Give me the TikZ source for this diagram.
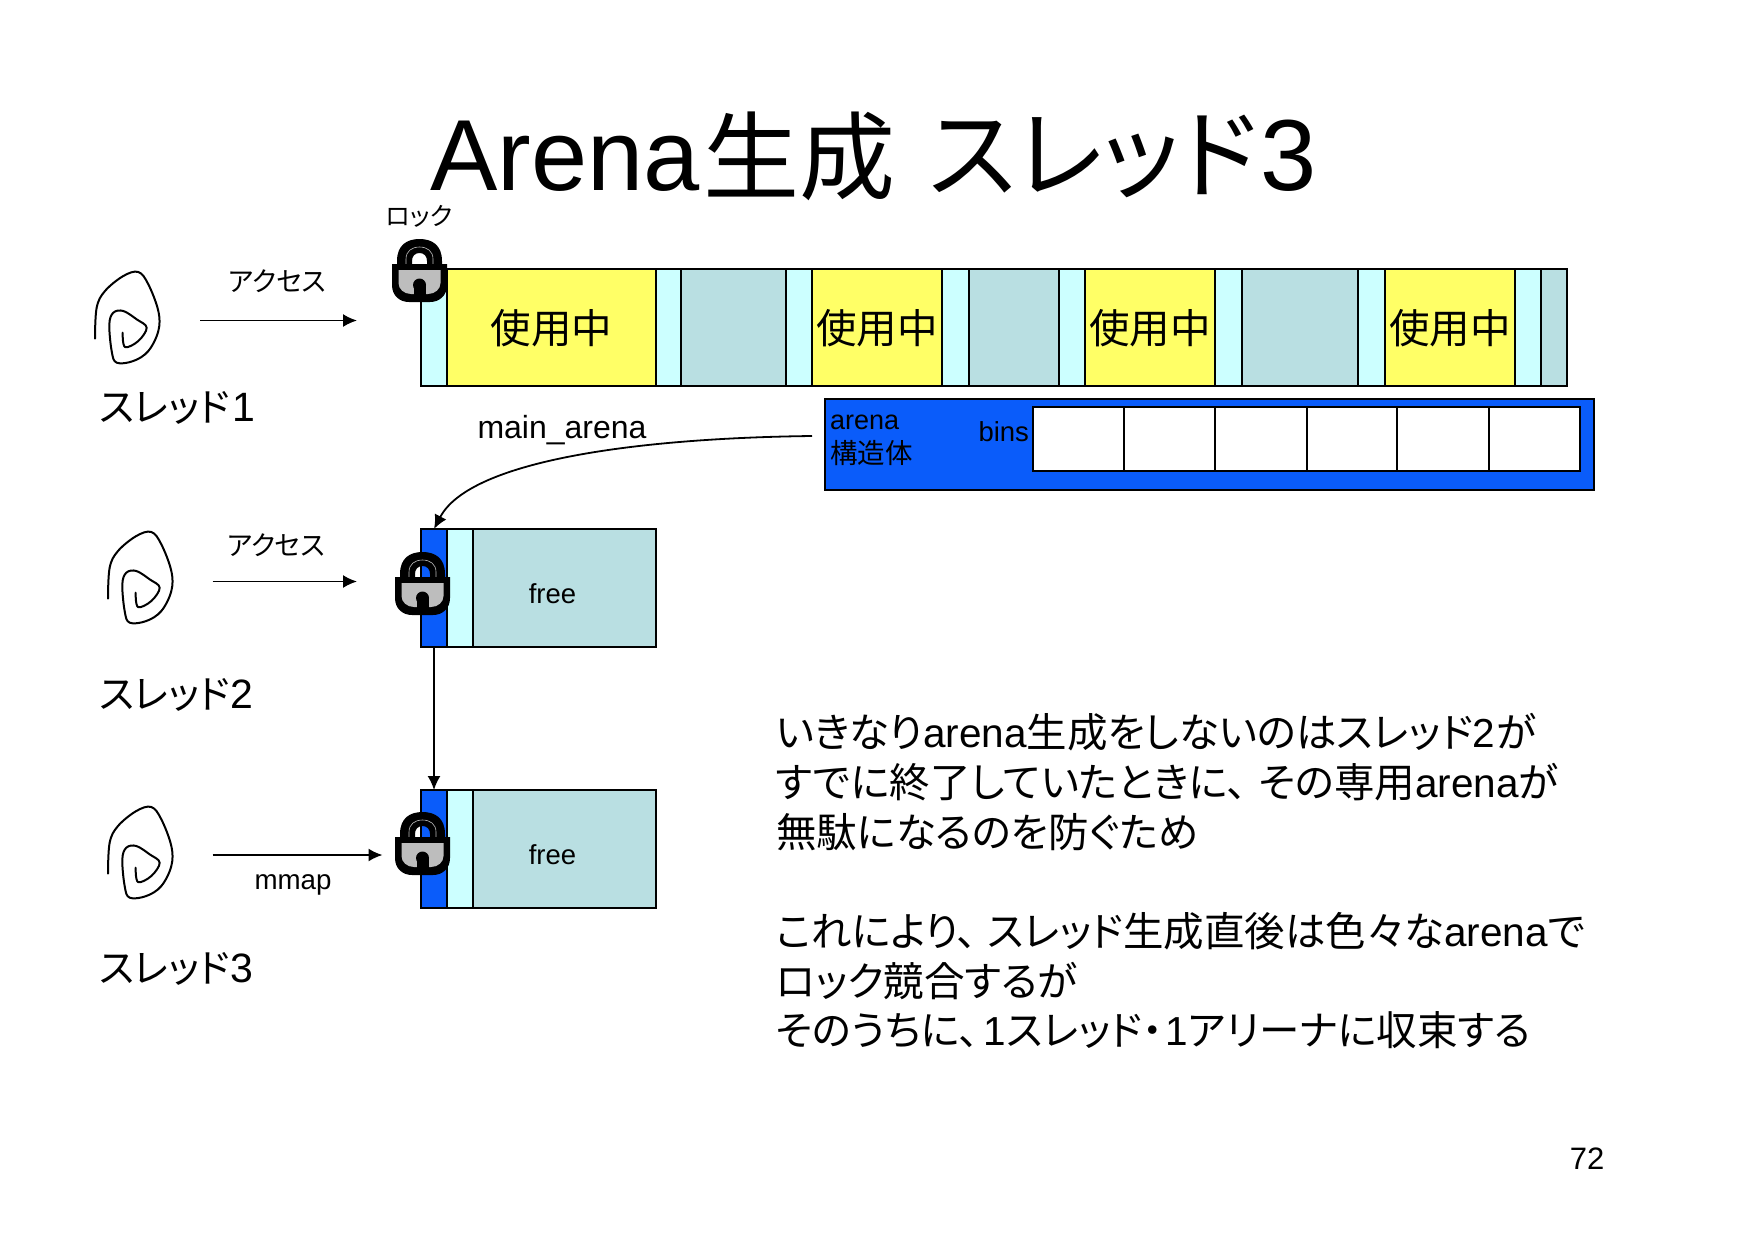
\documentclass[tikz,border=0pt]{standalone}
\usepackage{fontspec}
\setmainfont{Liberation Sans}
\newfontfamily\cjk[RawFeature=+palt]{Noto Sans CJK JP}
\newcommand{\lat}[1]{{\rmfamily #1}}
\usetikzlibrary{arrows.meta}
\definecolor{cy}{HTML}{CCFFFF}
\definecolor{ye}{HTML}{FFFF66}
\definecolor{te}{HTML}{B9DFE2}
\definecolor{bl}{HTML}{0A5CFA}
\definecolor{lockgray}{HTML}{BDBDBD}
\newcommand{\cellnode}[6][]{%
  \node[cellbox,#1,minimum width={#4-#2},minimum height={#5-#3}] (#6) at ({(#2+#4)/2},{(#3+#5)/2}) {};}
\tikzset{
  x=1pt,y=-1pt,
  cellbox/.style={draw=black,line width=2pt,rectangle,inner sep=0pt,outer sep=0pt},
  cyc/.style={fill=cy},
  yec/.style={fill=ye},
  tec/.style={fill=te},
  blc/.style={fill=bl},
  whc/.style={fill=white},
  usedtext/.style={font=\fontsize{40.5}{40.5}\selectfont\cjk,inner sep=0pt},
  txt/.style={inner sep=0pt,outer sep=0pt},
  conn/.style={line width=1.8pt,-{Latex[length=14pt,width=13pt]}},
  threadpic/.pic={
    \draw[line width=2pt,line cap=round,line join=round,scale=1/3] plot[smooth,tension=0.6] coordinates {
      (45,443) (50,350) (75,300) (130,255) (175,243) (205,280) (235,360) (235,420)
      (205,480) (160,510) (110,515) (95,480) (88,400) (100,365) (130,360) (170,385)
      (200,410) (175,450) (135,468) (128,425)};
  },
  lockpic/.pic={
    \fill[black,even odd rule]
      (5,26) -- (5,22) .. controls (5,6) and (15,0) .. (27.5,0) .. controls (40,0) and (50,6) .. (50,22) -- (50,26) -- cycle
      (20,26) -- (20,22) .. controls (20,17) and (23,14) .. (27.5,14) .. controls (32,14) and (35,17) .. (35,22) -- (35,26) -- cycle;
    \draw[lockgray,line width=0.6pt] (14,26) -- (14,20) .. controls (14,12) and (20,8) .. (27.5,8) .. controls (35,8) and (41,12) .. (41,20) -- (41,26);
    \fill[black] (0,25) -- (55,25) -- (55,46) .. controls (55,57) and (47,63) .. (38,63) -- (17,63) .. controls (8,63) and (0,57) .. (0,46) -- cycle;
    \fill[lockgray] (6.5,31) -- (48.5,31) -- (48.5,44) .. controls (48.5,50) and (43,55) .. (36,55) -- (19,55) .. controls (12,55) and (6.5,50) .. (6.5,44) -- cycle;
    \fill[black] (27.5,46) circle (6.5);
    \fill[black] (21.5,46) rectangle (33.5,63);
  },
}
\begin{document}
\begin{tikzpicture}
\useasboundingbox (0,0) rectangle (1754,1240);
% title
\node[txt,anchor=base west,font=\fontsize{101}{101}\selectfont] (title) at (430,190) {Arena\kern4pt{\cjk\raisebox{-2pt}{\fontsize{96}{96}\selectfont 生成}\kern10pt{} {\fontsize{98}{98}\selectfont スレッド}}\kern3pt{}3};
% heap 1
\cellnode[cyc]{421}{268.5}{447}{386}{c0}
\cellnode[yec]{447}{268.5}{655.5}{386}{u1}
\cellnode[cyc]{655.5}{268.5}{681}{386}{c1}
\cellnode[tec]{681}{268.5}{785.5}{386}{t1}
\cellnode[cyc]{785.5}{268.5}{812}{386}{c2}
\cellnode[yec]{812}{268.5}{942}{386}{u2}
\cellnode[cyc]{942}{268.5}{968.5}{386}{c3}
\cellnode[tec]{968.5}{268.5}{1058.5}{386}{t2}
\cellnode[cyc]{1058.5}{268.5}{1085}{386}{c4}
\cellnode[yec]{1085}{268.5}{1215}{386}{u3}
\cellnode[cyc]{1215}{268.5}{1241.5}{386}{c5}
\cellnode[tec]{1241.5}{268.5}{1358}{386}{t3}
\cellnode[cyc]{1358}{268.5}{1385}{386}{c6}
\cellnode[yec]{1385}{268.5}{1514.5}{386}{u4}
\cellnode[cyc]{1514.5}{268.5}{1541}{386}{c7}
\cellnode[tec]{1541}{268.5}{1567}{386}{t4}
\foreach \n in {u1,u2,u3,u4} \node[usedtext] (txt\n) at ([yshift=-0.5pt]\n.center) {使用中};
% arena
\cellnode[blc]{825}{399}{1594}{490}{arena}
\cellnode[whc]{1033}{407}{1124}{471}{b1}
\cellnode[whc]{1124}{407}{1215}{471}{b2}
\cellnode[whc]{1215}{407}{1306.5}{471}{b3}
\cellnode[whc]{1306.5}{407}{1397}{471}{b4}
\cellnode[whc]{1397}{407}{1489}{471}{b5}
\cellnode[whc]{1489}{407}{1579.5}{471}{b6}
\node[txt,anchor=west,font=\fontsize{27}{27}\selectfont] (arenat) at (830,422) {arena};
\node[txt,anchor=west,font=\fontsize{27.5}{27.5}\selectfont\cjk] (kozo) at (830,453) {構造体};
\node[txt,anchor=east,font=\fontsize{27.5}{27.5}\selectfont] (bins) at (1029,432) {bins};
% block 2
\cellnode[blc]{421}{529}{447}{646.5}{a2}
\cellnode[cyc]{447}{529}{473}{646.5}{c8}
\cellnode[tec]{473}{529}{656}{646.5}{f2}
\node[txt,font=\fontsize{27.5}{27.5}\selectfont] (free2) at (552.5,594) {free};
% block 3
\cellnode[blc]{421}{790}{447}{907.5}{a3}
\cellnode[cyc]{447}{790}{473}{907.5}{c9}
\cellnode[tec]{473}{790}{656}{907.5}{f3}
\node[txt,font=\fontsize{27.5}{27.5}\selectfont] (free3) at (552.5,855) {free};
% locks
\pic at (392,239) {lockpic};
\pic at (395,552) {lockpic};
\pic at (395,812) {lockpic};
\node[txt,font=\fontsize{25}{25}\selectfont\cjk] (lockt) at (419,216) {ロック};
% threads
\pic at (80,191) {threadpic};
\pic at (93,451) {threadpic};
\pic at (93,726) {threadpic};
\node[txt,anchor=west,font=\fontsize{39}{39}\selectfont\cjk] (th1) at (99,408) {スレッド\kern2pt\lat{\fontsize{41}{41}\selectfont 1}};
\node[txt,anchor=west,font=\fontsize{39}{39}\selectfont\cjk] (th2) at (99,695) {スレッド\lat{\fontsize{41}{41}\selectfont 2}};
\node[txt,anchor=west,font=\fontsize{39}{39}\selectfont\cjk] (th3) at (99,969) {スレッド\lat{\fontsize{41}{41}\selectfont 3}};
% arrows
\coordinate (s1) at (200,320.5); \coordinate (e1) at (357,320.5);
\coordinate (s2) at (212.5,581.5); \coordinate (e2) at (357,581.5);
\coordinate (s3) at (212.5,855); \coordinate (e3) at (382.5,855);
\draw[conn] (s1) -- (e1);
\draw[conn] (s2) -- (e2);
\draw[conn] (s3) -- (e3);
\node[txt,font=\fontsize{27}{27}\selectfont\cjk] (acc1) at (277.5,281) {アクセス};
\node[txt,font=\fontsize{27}{27}\selectfont\cjk] (acc2) at (276,545) {アクセス};
\node[txt,font=\fontsize{27.7}{27.7}\selectfont] (mmap) at (293,885) {mmap};
\coordinate (cs) at (812,436);
\draw[conn] (cs) .. controls (640,438) and (470,460) .. (a2.north);
\draw[conn] (a2.south) -- (a3.north);
\node[txt,font=\fontsize{32}{32}\selectfont] (mainarena) at (562,430) {main\_arena};
% paragraphs
\node[txt,anchor=north west,align=left,font=\fontsize{40.5}{49.7}\selectfont\cjk] (para) at (776,713.5)
{いきなり\lat{arena}生成をしないのはスレッド\lat{2}\kern1pt{}が\\すでに終了していたときに、\kern12pt{}その専用\lat{arena}が\\無駄になるのを防ぐため\\[49.7pt]これにより、\kern10pt{}スレッド生成直後は色々な\lat{arena}で\\ロック競合するが\\そのうちに、\kern4pt\lat{1}\kern1pt{}スレッド・\kern3pt\lat{1}アリーナに収束する};
\node[txt,font=\fontsize{31}{31}\selectfont] (pageno) at (1587,1159) {72};
\end{tikzpicture}
\end{document}
